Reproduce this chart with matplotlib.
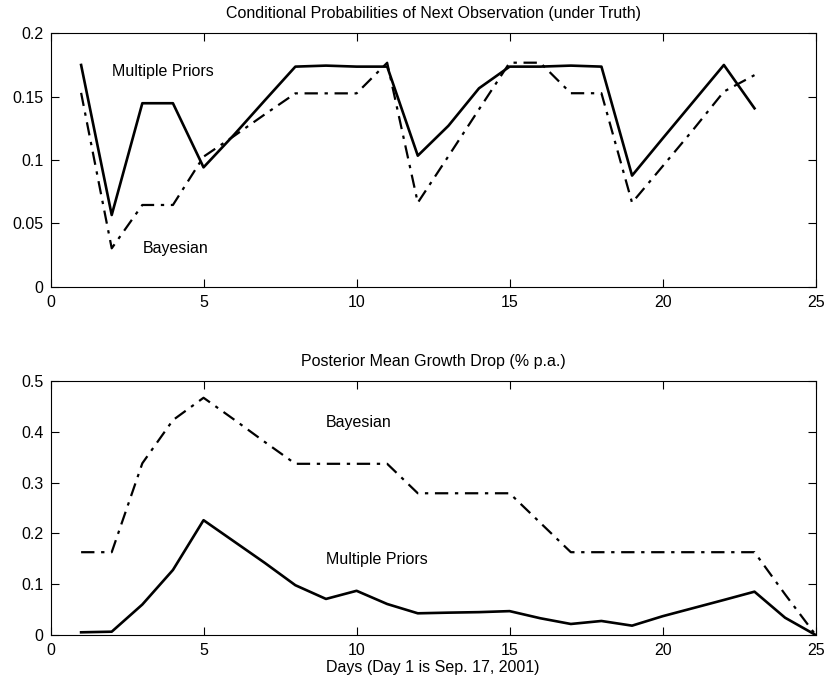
import matplotlib
matplotlib.use("Agg")
import matplotlib.pyplot as plt

plt.rcParams['font.family'] = ['Liberation Sans', 'DejaVu Sans']
plt.rcParams['font.size'] = 11.5

# Top panel: conditional probabilities of next observation
days_top = list(range(1, 24))
cond_multiple = [0.175, 0.0566, 0.1448, 0.1448, 0.0942, 0.120, 0.147, 0.1737, 0.1745, 0.1737,
                 0.1737, 0.1034, 0.127, 0.1566, 0.1737, 0.1737, 0.1745, 0.1737, 0.0877, 0.117,
                 0.146, 0.175, 0.1408]
cond_bayes = [0.153, 0.0303, 0.0645, 0.0645, 0.1026, 0.119, 0.136, 0.1526, 0.1526, 0.1526,
              0.1768, 0.0663, 0.103, 0.140, 0.1768, 0.1768, 0.1527, 0.1527, 0.0663, 0.0951,
              0.124, 0.154, 0.167]

# Bottom panel: posterior mean growth drop
days_bot = list(range(1, 26))
drop_multiple = [0.0053, 0.0065, 0.060, 0.128, 0.226, 0.184, 0.142, 0.098, 0.071, 0.087,
                 0.061, 0.0427, 0.044, 0.045, 0.047, 0.033, 0.0217, 0.0276, 0.0184, 0.037,
                 0.053, 0.069, 0.0853, 0.034, 0.0]
drop_bayes = [0.163, 0.163, 0.338, 0.423, 0.467, 0.424, 0.380, 0.337, 0.337, 0.337,
              0.337, 0.279, 0.279, 0.279, 0.279, 0.221, 0.163, 0.163, 0.163, 0.163,
              0.163, 0.163, 0.163, 0.080, 0.0]

W, H = 825, 678
fig = plt.figure(figsize=(W / 100, H / 100), dpi=100)
ax1 = fig.add_axes([50.5 / W, 1 - 286.7 / H, 765.2 / W, 253.4 / H])
ax2 = fig.add_axes([50.5 / W, 1 - 635 / H, 765.2 / W, 254 / H])

dashdot = (0, (6, 3, 1.5, 3))


def style_axis(ax):
    ax.tick_params(direction='in', length=5.5, width=0.8, top=True, right=True,
                   labelsize=11.5)
    ax.tick_params(axis='x', pad=6)
    ax.tick_params(axis='y', pad=5)
    for sp in ax.spines.values():
        sp.set_linewidth(0.8)
    ax.set_xlim(0, 25)
    ax.set_xticks([0, 5, 10, 15, 20, 25])


ax1.plot(days_top, cond_multiple, color='black', linewidth=1.9, linestyle='-')
ax1.plot(days_top, cond_bayes, color='black', linewidth=1.6, linestyle=dashdot)
style_axis(ax1)
ax1.set_ylim(0, 0.2)
ax1.set_yticks([0, 0.05, 0.1, 0.15, 0.2])
ax1.set_yticklabels(['0', '0.05', '0.1', '0.15', '0.2'])
ax1.set_title('Conditional Probabilities of Next Observation (under Truth)', fontsize=11.5, pad=11)
ax1.text(2.0, 0.17, 'Multiple Priors', fontsize=11.5, va='center')
ax1.text(3.0, 0.0298, 'Bayesian', fontsize=11.5, va='center')

ax2.plot(days_bot, drop_multiple, color='black', linewidth=1.9, linestyle='-')
ax2.plot(days_bot, drop_bayes, color='black', linewidth=1.6, linestyle=dashdot)
style_axis(ax2)
ax2.set_ylim(0, 0.5)
ax2.set_yticks([0, 0.1, 0.2, 0.3, 0.4, 0.5])
ax2.set_yticklabels(['0', '0.1', '0.2', '0.3', '0.4', '0.5'])
ax2.set_title('Posterior Mean Growth Drop (% p.a.)', fontsize=11.5, pad=11)
ax2.set_xlabel('Days (Day 1 is Sep. 17, 2001)', fontsize=11.5, labelpad=1.5)
ax2.text(9.0, 0.419, 'Bayesian', fontsize=11.5, va='center')
ax2.text(9.0, 0.149, 'Multiple Priors', fontsize=11.5, va='center')

fig.savefig('out.png', dpi=100)
